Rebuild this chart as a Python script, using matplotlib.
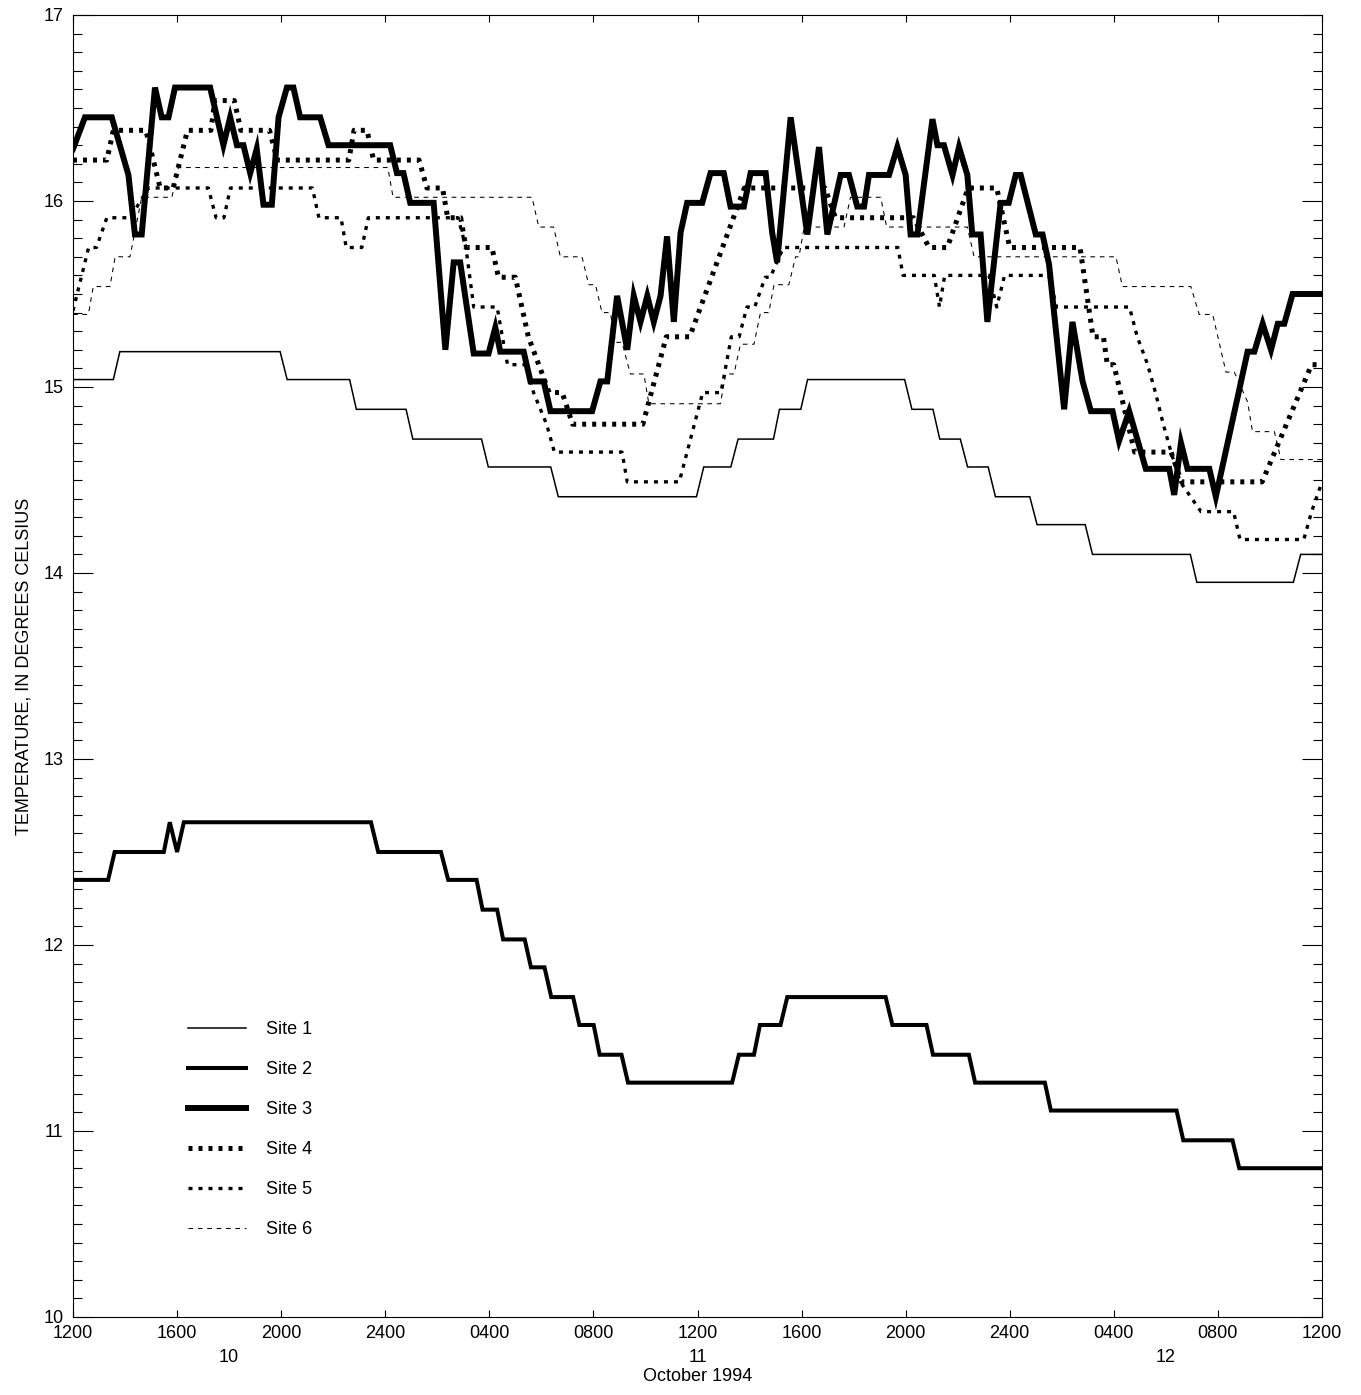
import numpy as np
import matplotlib.pyplot as plt
from matplotlib.ticker import MultipleLocator

plt.rcParams['font.family'] = ['Liberation Sans', 'DejaVu Sans']

# hours after 1200 on 10 October 1994, temperature in deg C (vertices of each trace)
site1_h = [0, 1.55, 1.8, 7.96, 8.23, 10.63, 10.89, 12.8, 13.06, 15.7, 15.96, 18.36, 18.65,
           23.96, 24.24, 25.28, 25.56, 26.92, 27.15, 27.97, 28.23, 31.96, 32.24, 33.05, 33.31,
           34.1, 34.38, 35.17, 35.45, 36.77, 37.05, 38.9, 39.18, 42.94, 43.19, 46.9, 47.18, 48]
site1_t = [15.04, 15.04, 15.19, 15.19, 15.04, 15.04, 14.88, 14.88, 14.72, 14.72, 14.57, 14.57, 14.41,
           14.41, 14.57, 14.57, 14.72, 14.72, 14.88, 14.88, 15.04, 15.04, 14.88, 14.88, 14.72,
           14.72, 14.57, 14.57, 14.41, 14.41, 14.26, 14.26, 14.10, 14.10, 13.95, 13.95, 14.10, 14.10]

site2_h = [0, 1.35, 1.6, 3.49, 3.72, 4.0, 4.26, 11.45, 11.73, 14.14, 14.42, 15.51, 15.74, 16.3,
           16.53, 17.36, 17.6, 18.12, 18.38, 19.22, 19.46, 20.01, 20.24, 21.08, 21.33, 25.33,
           25.59, 26.17, 26.4, 27.19, 27.45, 31.23, 31.49, 32.8, 33.05, 34.43, 34.67, 37.35,
           37.58, 42.41, 42.67, 44.56, 44.82, 48]
site2_t = [12.35, 12.35, 12.50, 12.50, 12.66, 12.50, 12.66, 12.66, 12.50, 12.50, 12.35, 12.35, 12.19, 12.19,
           12.03, 12.03, 11.88, 11.88, 11.72, 11.72, 11.57, 11.57, 11.41, 11.41, 11.26, 11.26,
           11.41, 11.41, 11.57, 11.57, 11.72, 11.72, 11.57, 11.57, 11.41, 11.41, 11.26, 11.26,
           11.11, 11.11, 10.95, 10.95, 10.80, 10.80]

site3_h = [0, 0.46, 1.49, 2.13, 2.38, 2.64, 3.15, 3.41, 3.67, 3.92, 5.27, 5.78, 6.04, 6.3, 6.55,
           6.81, 7.06, 7.32, 7.64, 7.9, 8.22, 8.47, 8.73, 9.5, 9.82, 12.19, 12.45, 12.7, 12.96,
           13.86, 14.31, 14.63, 14.88, 15.4, 15.97, 16.23, 16.42, 17.32, 17.58, 18.09, 18.35,
           19.95, 20.27, 20.53, 20.91, 21.3, 21.55, 21.81, 22.07, 22.32, 22.58, 22.83, 23.09,
           23.35, 23.6, 24.18, 24.5, 25.01, 25.27, 25.78, 26.04, 26.62, 26.87, 27.06, 27.58,
           28.22, 28.67, 28.99, 29.5, 29.82, 30.14, 30.4, 30.59, 31.36, 31.68, 32.0, 32.19,
           32.45, 33.03, 33.22, 33.47, 33.8, 34.05, 34.37, 34.56, 34.88, 35.14, 35.65, 35.96,
           36.23, 36.42, 37.0, 37.26, 37.51, 38.09, 38.41, 38.8, 39.12, 39.95, 40.2, 40.59,
           41.23, 42.13, 42.32, 42.58, 42.83, 43.67, 43.92, 45.14, 45.4, 45.72, 46.04, 46.3,
           46.55, 46.87, 48]
site3_t = [16.28, 16.45, 16.45, 16.14, 15.82, 15.82, 16.61, 16.45, 16.45, 16.61, 16.61, 16.30, 16.45, 16.30, 16.30,
           16.15, 16.28, 15.98, 15.98, 16.45, 16.61, 16.61, 16.45, 16.45, 16.30, 16.30, 16.15, 16.15, 15.99,
           15.99, 15.20, 15.67, 15.67, 15.18, 15.18, 15.32, 15.19, 15.19, 15.03, 15.03, 14.87,
           14.87, 15.03, 15.03, 15.49, 15.20, 15.49, 15.35, 15.49, 15.35, 15.49, 15.81, 15.35,
           15.83, 15.99, 15.99, 16.15, 16.15, 15.97, 15.97, 16.15, 16.15, 15.83, 15.67, 16.45,
           15.82, 16.29, 15.82, 16.14, 16.14, 15.97, 15.97, 16.14, 16.14, 16.29, 16.14, 15.82,
           15.82, 16.44, 16.30, 16.30, 16.14, 16.29, 16.14, 15.82, 15.82, 15.35, 15.99, 15.99,
           16.14, 16.14, 15.82, 15.82, 15.66, 14.88, 15.35, 15.03, 14.87, 14.87, 14.71, 14.87,
           14.56, 14.56, 14.42, 14.70, 14.56, 14.56, 14.41, 15.19, 15.19, 15.34, 15.20, 15.34,
           15.34, 15.50, 15.50]

site4_h = [0, 1.3, 1.55, 2.8, 3.35, 3.85, 4.4, 5.3, 5.45, 6.2, 6.45, 7.55, 7.85, 10.6, 10.8,
           11.3, 11.55, 13.3, 13.6, 14.2, 14.4, 14.9, 15.1, 16.1, 16.35, 17.0, 17.5, 17.9, 18.3,
           18.8, 19.2, 21.9, 22.8, 23.7, 25.8, 28.9, 29.3, 32.3, 32.9, 33.6, 34.4, 35.5, 36.0,
           38.7, 39.2, 39.6, 39.75, 40.0, 40.8, 42.2, 42.6, 45.7, 47.6, 48]
site4_t = [16.22, 16.22, 16.38, 16.38, 16.07, 16.07, 16.38, 16.38, 16.54, 16.54, 16.38, 16.38, 16.22, 16.22, 16.38,
           16.38, 16.22, 16.22, 16.07, 16.07, 15.91, 15.91, 15.75, 15.75, 15.59, 15.59, 15.27, 15.12, 14.97,
           14.97, 14.80, 14.80, 15.27, 15.27, 16.07, 16.07, 15.91, 15.91, 15.75, 15.75, 16.07, 16.07, 15.75,
           15.75, 15.27, 15.27, 15.12, 15.12, 14.65, 14.65, 14.49, 14.49, 15.12, 15.12]

site5_h = [0, 0.6, 0.9, 1.3, 2.2, 2.9, 5.2, 5.5, 5.8, 6.05, 9.2, 9.45, 10.3, 10.5, 11.1, 11.35,
           14.8, 15.1, 15.4, 16.3, 16.5, 16.7, 17.4, 17.7, 18.2, 18.5, 21.1, 21.3, 23.3, 24.2,
           24.9, 25.3, 25.6, 25.9, 26.2, 26.6, 26.8, 27.3, 31.7, 31.9, 33.1, 33.3, 33.5, 35.2,
           35.5, 35.8, 37.5, 37.8, 40.6, 40.9, 41.3, 41.6, 41.9, 42.2, 42.55, 43.35, 44.6, 44.85,
           47.3, 47.6, 48]
site5_t = [15.41, 15.75, 15.75, 15.91, 15.91, 16.07, 16.07, 15.91, 15.91, 16.07, 16.07, 15.91, 15.91, 15.75, 15.75, 15.91,
           15.91, 15.75, 15.43, 15.43, 15.27, 15.12, 15.12, 14.97, 14.80, 14.65, 14.65, 14.49, 14.49, 14.97,
           14.97, 15.27, 15.27, 15.43, 15.43, 15.59, 15.59, 15.75, 15.75, 15.60, 15.60, 15.43, 15.60, 15.60,
           15.43, 15.60, 15.60, 15.43, 15.43, 15.27, 15.12, 14.97, 14.80, 14.65, 14.49, 14.33, 14.33, 14.18,
           14.18, 14.33, 14.49]

site6_h = [0, 0.59, 0.78, 1.42, 1.62, 2.19, 2.64, 3.8, 4.05, 12.1, 12.3, 17.64, 17.9, 18.47,
           18.73, 19.56, 19.82, 20.08, 20.33, 20.65, 20.85, 21.1, 21.42, 21.94, 22.13, 24.88,
           25.08, 25.4, 25.65, 26.17, 26.42, 26.74, 26.94, 27.51, 27.77, 27.9, 28.1, 29.63,
           29.88, 31.04, 31.27, 34.37, 34.63, 40.08, 40.33, 42.96, 43.28, 43.8, 44.31, 44.63,
           45.14, 45.33, 46.17, 46.42, 48]
site6_t = [15.39, 15.39, 15.54, 15.54, 15.70, 15.70, 16.02, 16.02, 16.18, 16.18, 16.02, 16.02, 15.86, 15.86,
           15.70, 15.70, 15.55, 15.55, 15.40, 15.40, 15.24, 15.24, 15.07, 15.07, 14.91, 14.91,
           15.07, 15.07, 15.23, 15.23, 15.40, 15.40, 15.55, 15.55, 15.70, 15.70, 15.86, 15.86,
           16.02, 16.02, 15.86, 15.86, 15.70, 15.70, 15.54, 15.54, 15.39, 15.39, 15.08, 15.08,
           14.92, 14.76, 14.76, 14.61, 14.61]

hour_ticks = list(range(0, 49, 4))
hour_labels = ['1200', '1600', '2000', '2400', '0400', '0800', '1200',
               '1600', '2000', '2400', '0400', '0800', '1200']
day_pos = [6, 24, 42]
day_labels = ['10', '11', '12']


def main():
    fig = plt.figure(figsize=(13.61, 13.95), dpi=100)
    ax = fig.add_axes([73 / 1361, 1 - 1317 / 1395, 1249 / 1361, 1302 / 1395])

    k = dict(color='black', solid_joinstyle='miter')
    ax.plot(site1_h, site1_t, lw=1.1, label='Site 1', **k)
    ax.plot(site2_h, site2_t, lw=2.9, label='Site 2', **k)
    ax.plot(site3_h, site3_t, lw=4.3, label='Site 3', **k)
    ax.plot(site4_h, site4_t, lw=3.6, ls=(0, (0.8, 1.2)), label='Site 4', **k)
    ax.plot(site5_h, site5_t, lw=2.4, ls=(0, (1.2, 1.8)), label='Site 5', **k)
    ax.plot(site6_h, site6_t, lw=0.75, ls=(0, (4.5, 4.5)), label='Site 6', **k)

    ax.set_xlim(0, 48)
    ax.set_ylim(10, 17)
    ax.set_xticks(hour_ticks)
    ax.set_xticklabels(hour_labels)
    ax.set_xticks([12, 36], minor=True)
    ax.set_yticks(range(10, 18))
    ax.yaxis.set_minor_locator(MultipleLocator(0.1))
    ax.tick_params(axis='x', which='major', direction='in', length=5, width=0.8,
                   top=True, labelsize=13, pad=6)
    ax.tick_params(axis='x', which='minor', direction='in', length=9.5, width=0.8, top=True)
    ax.tick_params(axis='y', which='major', direction='in', length=14.4, width=0.8,
                   right=True, labelsize=13, pad=7)
    ax.tick_params(axis='y', which='minor', direction='in', length=6.5, width=0.8, right=True)
    for s in ax.spines.values():
        s.set_linewidth(0.8)

    tr = ax.get_xaxis_transform()
    for p, d in zip(day_pos, day_labels):
        ax.text(p, -0.031, d, transform=tr, ha='center', va='center', fontsize=13)
    ax.text(24, -0.046, 'October 1994', transform=tr, ha='center', va='center', fontsize=13)

    ax.set_ylabel('TEMPERATURE, IN DEGREES CELSIUS', fontsize=13, labelpad=8)

    ax.legend(loc='upper left', bbox_to_anchor=(0.092, 0.227), frameon=False, fontsize=13,
              handlelength=3.2, handletextpad=1.1, labelspacing=1.27, borderpad=0,
              borderaxespad=0)

    fig.savefig('out.png', dpi=100)


if __name__ == "__main__":
    main()
